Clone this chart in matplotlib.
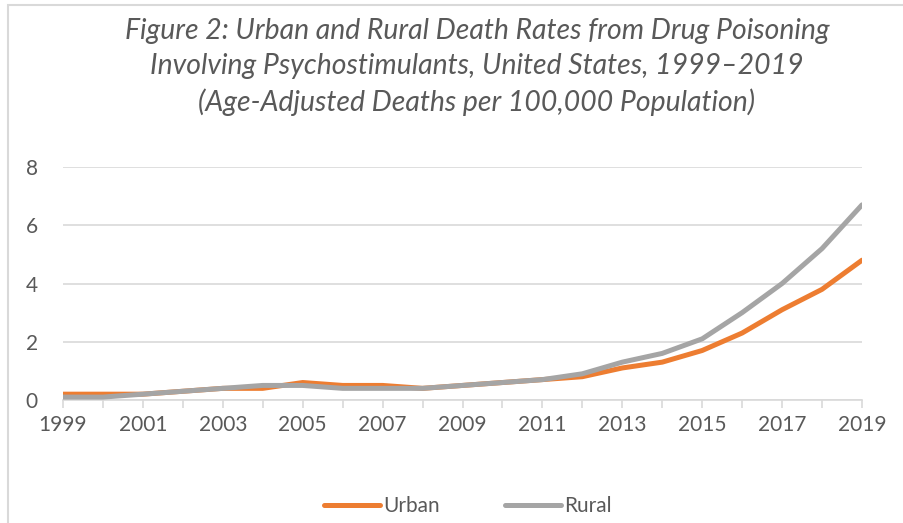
import matplotlib
matplotlib.use("Agg")
import matplotlib.pyplot as plt
from matplotlib.patches import Rectangle

years = list(range(1999, 2020))
urban = [0.2, 0.2, 0.2, 0.3, 0.4, 0.4, 0.6, 0.5, 0.5, 0.4, 0.5, 0.6, 0.7, 0.8, 1.1, 1.3, 1.7, 2.3, 3.1, 3.8, 4.8]
rural = [0.1, 0.1, 0.2, 0.3, 0.4, 0.5, 0.5, 0.4, 0.4, 0.4, 0.5, 0.6, 0.7, 0.9, 1.3, 1.6, 2.1, 3.0, 4.0, 5.2, 6.7]
xtick_labels = [str(y) for y in range(1999, 2020, 2)]
yticks = [0, 2, 4, 6, 8]
title = ("Figure 2: Urban and Rural Death Rates from Drug Poisoning\n"
         "Involving Psychostimulants, United States, 1999\u20132019\n"
         "(Age-Adjusted Deaths per 100,000 Population)")

W, H = 904, 523
fig = plt.figure(figsize=(W / 100, H / 100), dpi=100)
plt.rcParams['font.family'] = ['Lato', 'DejaVu Sans']
txt = '#595959'

fig.patches.append(Rectangle((8 / W, -0.1), 1.2, 1.1 - 5.5 / H, transform=fig.transFigure,
                             fill=False, edgecolor='#D9D9D9', linewidth=1.5))

ax = fig.add_axes([63 / W, 1 - 400 / H, (862 - 63) / W, (400 - 167) / H])
ax.plot(years, urban, color='#ED7D31', lw=3.6, solid_capstyle='round', label='Urban', zorder=3)
ax.plot(years, rural, color='#A5A5A5', lw=3.6, solid_capstyle='round', label='Rural', zorder=3)

ax.set_xlim(1999, 2019)
ax.set_ylim(0, 8)
ax.set_yticks(yticks)
ax.set_xticks(range(1999, 2020, 2))
ax.set_xticklabels(xtick_labels)
ax.set_xticks(years, minor=True)
ax.grid(axis='y', color='#D9D9D9', lw=1.2)
ax.set_axisbelow(True)
for s in ['top', 'right', 'left']:
    ax.spines[s].set_visible(False)
ax.spines['bottom'].set_color('#D9D9D9')
ax.spines['bottom'].set_linewidth(1.2)
ax.tick_params(axis='y', length=0, pad=18, labelsize=15, labelcolor=txt)
ax.tick_params(axis='x', which='both', length=6, color='#D9D9D9', width=1.2,
               pad=5, labelsize=15, labelcolor=txt, direction='out')

fig.text(477 / W, 1 - 67 / H, title, ha='center', va='center', fontsize=20.4,
         style='italic', color=txt, linespacing=1.4)

leg = fig.legend(loc='center', bbox_to_anchor=(468 / W, 1 - 506 / H), ncol=2, frameon=False,
                 fontsize=15, labelcolor=txt, handlelength=2.7, handletextpad=0.15,
                 columnspacing=3.1)

fig.savefig('out.png', dpi=100)
